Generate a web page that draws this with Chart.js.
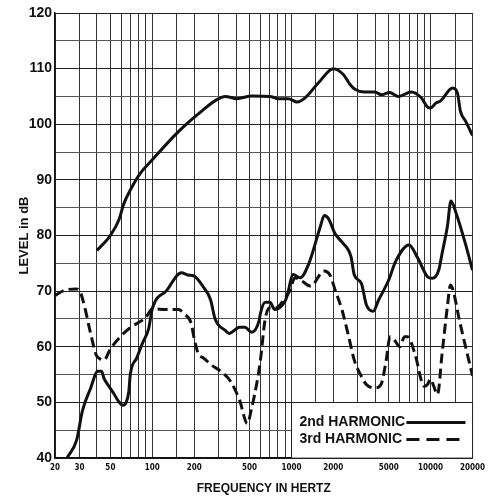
<!DOCTYPE html>
<html>
<head>
<meta charset="utf-8">
<script src="https://cdn.jsdelivr.net/npm/chart.js@4"></script>
<style>
  html, body { margin: 0; padding: 0; background: #fff; }
  #wrap { width: 490px; height: 500px; }
</style>
</head>
<body>
<div id="wrap"><canvas id="chart" width="490" height="500"></canvas></div>
<script>
// fundamental response (unlabelled top curve)
const fundFreq = [40, 50, 58, 62, 70, 81, 100, 145, 185, 230, 285, 335, 405, 520, 700, 810, 950, 1100, 1260, 1570, 2000, 2350, 2630, 2860, 3370, 3970, 4430, 5080, 5870, 7260, 8540, 9500, 10000, 10900, 11800, 14400, 15600, 16400, 17800, 20000];
const fundLevel = [77.3, 80, 83, 85.5, 88.3, 91, 93.6, 98, 100.5, 102.5, 104.3, 105, 104.6, 105.1, 105, 104.6, 104.6, 104, 104.8, 107.5, 110, 109, 107.2, 106.3, 105.8, 105.8, 105.3, 105.7, 105, 105.8, 104.8, 103.1, 102.9, 103.8, 104.2, 106.5, 105.6, 102.3, 100.6, 98];

// 2nd harmonic
const h2Freq = [24.4, 28.6, 31.5, 36, 40.6, 43.2, 45, 48.8, 52.9, 57.5, 61.6, 64.9, 67.8, 69.5, 77.4, 85.3, 94.1, 100, 126.7, 162, 180, 200, 235, 262, 283, 336, 356, 424, 464, 517, 586, 600, 648, 700, 759, 900, 930, 1030, 1156, 1336, 1600, 1725, 1850, 2060, 2310, 2680, 2830, 3180, 3460, 3870, 4230, 5000, 5600, 7000, 8100, 9500, 10270, 11450, 12100, 13200, 14000, 15300, 17660, 20000];
const h2Level = [40, 43.2, 48.5, 52.5, 55.6, 55.6, 54.3, 52.9, 51.6, 50.1, 49.5, 50, 51.9, 55, 58, 60.7, 63.2, 66.8, 70.1, 73.3, 72.9, 72.7, 70.6, 68.5, 65, 62.9, 62.4, 63.5, 63.5, 62.6, 64.7, 66.1, 68, 68, 66.7, 68.2, 69.1, 73, 72.4, 75, 81.3, 83.6, 83, 80.3, 78.8, 76.2, 72.9, 71.4, 67.5, 66.4, 68.4, 72, 75.3, 78.3, 75.9, 72.6, 72.3, 73.8, 76.8, 81.6, 86.2, 83.9, 78.8, 73.8];

// 3rd harmonic
const h3Freq = [20, 23.1, 28.3, 30, 32.5, 35.6, 39.6, 41.7, 45, 50, 60, 70, 90, 100, 126.7, 154, 170, 190, 200, 216, 229, 270, 318, 367, 424, 482, 517, 571, 600, 648, 700, 778, 900, 970, 1060, 1190, 1375, 1712, 1900, 2060, 2310, 2580, 2830, 3180, 3460, 4000, 4400, 4800, 5110, 5500, 6000, 6500, 6850, 7700, 9000, 9500, 10000, 10500, 11200, 12100, 13200, 13900, 14500, 16100, 18000, 20000];
const h3Level = [69.2, 70.1, 70.4, 70.1, 67.4, 63, 58.5, 57.9, 57.6, 59.6, 62, 63.5, 65.3, 66.8, 66.7, 66.7, 65.9, 64.3, 61.5, 58.5, 58.1, 56.6, 55.4, 53.7, 50.4, 46.2, 48.9, 54.2, 57.8, 65, 67, 67, 68.8, 70, 72.4, 71.8, 70.9, 73.6, 72.8, 70.2, 66.6, 61.8, 57.6, 54.7, 53.2, 52.6, 53.2, 57.6, 61.8, 61.2, 60, 61.8, 61.8, 58.8, 52.9, 53.2, 54.2, 53, 51.4, 58.8, 67.2, 71.1, 70.2, 64.8, 59.6, 54.8];

// axis ticks
const xGrid = [20, 30, 40, 50, 60, 70, 80, 90, 100, 150, 200, 300, 400, 500, 600, 700, 800, 900, 1000, 1500, 2000, 3000, 4000, 5000, 6000, 7000, 8000, 9000, 10000, 15000, 20000];
const xLabels = [20, 30, 50, 100, 200, 500, 1000, 2000, 5000, 10000, 20000];
const yLabels = [40, 50, 60, 70, 80, 90, 100, 110, 120];

const legendItems = ['2nd HARMONIC', '3rd HARMONIC'];

const toPoints = (xs, ys) => xs.map((f, i) => ({ x: f, y: ys[i] }));

const ink = '#111';

// white legend box sitting over the bottom-right of the grid
const legendBox = {
  id: 'legendBox',
  afterDatasetsDraw(chart) {
    const { ctx, scales: { x, y } } = chart;
    const left = x.getPixelForValue(1000);
    const top = y.getPixelForValue(50);
    const right = x.right;
    const bottom = y.bottom;
    ctx.save();
    ctx.fillStyle = '#fff';
    ctx.fillRect(left, top, right - left, bottom - top);
    ctx.strokeStyle = '#222';
    ctx.lineWidth = 1;
    ctx.strokeRect(Math.round(left) + 0.5, Math.round(top) + 0.5, right - left, bottom - top);

    ctx.font = 'bold 14px "Liberation Sans", Arial, sans-serif';
    ctx.fillStyle = ink;
    ctx.textBaseline = 'middle';
    ctx.textAlign = 'left';
    legendItems.forEach((txt, i) => {
      const ty = top + 20 + i * 17;
      ctx.fillText(txt, left + 8, ty);
      ctx.beginPath();
      ctx.lineWidth = 3;
      ctx.strokeStyle = ink;
      ctx.setLineDash(i === 0 ? [] : [13, 7]);
      ctx.moveTo(left + 115, ty);
      ctx.lineTo(right - 7, ty);
      ctx.stroke();
    });
    ctx.restore();
  }
};

const lineStyle = {
  borderColor: ink,
  borderWidth: 3,
  pointRadius: 0,
  fill: false,
  cubicInterpolationMode: 'monotone'
};

new Chart(document.getElementById('chart').getContext('2d'), {
  type: 'line',
  data: {
    datasets: [
      Object.assign({ label: 'Fundamental', data: toPoints(fundFreq, fundLevel) }, lineStyle),
      Object.assign({ label: legendItems[0], data: toPoints(h2Freq, h2Level) }, lineStyle),
      Object.assign({ label: legendItems[1], data: toPoints(h3Freq, h3Level), borderDash: [10, 5] }, lineStyle)
    ]
  },
  options: {
    responsive: false,
    animation: false,
    layout: { padding: { top: 13, right: 13, left: 0, bottom: 0 } },
    plugins: {
      legend: { display: false },
      tooltip: { enabled: false }
    },
    scales: {
      x: {
        type: 'logarithmic',
        min: 20,
        max: 20000,
        afterBuildTicks: (scale) => { scale.ticks = xGrid.map(v => ({ value: v })); },
        afterFit: (scale) => { scale.height = 42; },
        grid: { color: '#333', lineWidth: 1, drawTicks: false },
        border: { color: '#111', width: 1.5 },
        ticks: {
          autoSkip: false,
          maxRotation: 0,
          padding: 5,
          color: ink,
          font: { family: '"Liberation Sans Narrow", "DejaVu Sans Condensed", sans-serif', size: 8, weight: 'bold' },
          callback: (v) => xLabels.includes(v) ? String(v) : ''
        },
        title: {
          display: true,
          text: 'FREQUENCY IN HERTZ',
          color: ink,
          padding: { top: 0, bottom: 4 },
          font: { family: '"Liberation Sans", Arial, sans-serif', size: 12, weight: 'bold' }
        }
      },
      y: {
        min: 40,
        max: 120,
        afterFit: (scale) => { scale.width = 55; },
        grid: {
          color: (c) => c.tick && c.tick.value % 10 === 0 ? '#222' : '#555',
          lineWidth: 1,
          drawTicks: false
        },
        border: { color: '#111', width: 1.5 },
        ticks: {
          stepSize: 5,
          padding: 3,
          color: ink,
          font: { family: '"Liberation Sans", Arial, sans-serif', size: 14, weight: 'bold' },
          callback: (v) => yLabels.includes(v) ? String(v) : ''
        },
        title: {
          display: true,
          text: 'LEVEL in dB',
          color: ink,
          padding: { top: 17, bottom: 0 },
          font: { family: '"Liberation Sans", Arial, sans-serif', size: 13, weight: 'bold' }
        }
      }
    }
  },
  plugins: [legendBox]
});
</script>
</body>
</html>
